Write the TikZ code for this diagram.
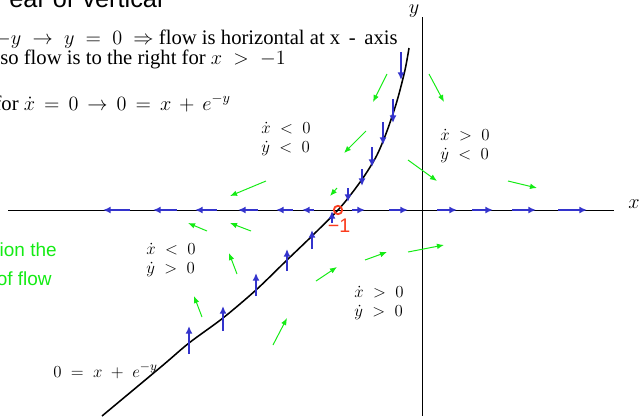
\documentclass[tikz,border=0pt]{standalone}
\usepackage{fontspec}
\setmainfont{Liberation Serif}
\newfontfamily\arialfont{Liberation Sans}
\usetikzlibrary{arrows.meta}
\definecolor{flowblue}{RGB}{51,51,204}
\definecolor{flowgreen}{RGB}{20,235,20}
\definecolor{fixred}{RGB}{250,60,30}
\tikzset{
    bluearr/.style={flowblue,line width=1.6pt,-{Latex[length=5.5pt,width=5pt]}},
    greenarr/.style={flowgreen,line width=0.7pt,-{Latex[length=5pt,width=4pt]}},
    sign/.style={align=left,inner sep=0pt,font=\fontsize{12.5}{14}\selectfont},
    toptext/.style={inner sep=0pt,font=\fontsize{14.7}{16}\selectfont}
}
\begin{document}
\begin{tikzpicture}[x=0.025cm,y=-0.025cm]
        \useasboundingbox (0,0) rectangle (639,416);
        % axes
            \draw[line width=0.7pt] (8,210) -- (614,210);
            \draw[line width=0.7pt] (422,17) -- (422,416);
            \node[font=\fontsize{14}{16}\selectfont] (xlab) at (634,204) {$x$};
            \node[font=\fontsize{14}{16}\selectfont] (ylab) at (414,11) {$y$};
        % nullcline
            \draw[line width=1.1pt] plot[smooth] coordinates {(102,416) (162,366) (189,343) (223,318)
                (256,290) (287,260) (312,236) (338,210) (352,193) (365,175) (377,155)
                (387,131) (397,101) (405,70) (409,48)};
        % flow along the x-axis
            \foreach \a/\b in {130/103,177/153,217/195,258/238,293/276,314/302,
                               352/365,389/408,437/457,472/493,512/536,558/587}{
                \draw[bluearr] (\a,210) -- (\b,210);
            }
        % flow along the nullcline
            \foreach \x/\a/\b in {189/354/326,223/331/306,256/296/273,287/271/249,312/249/230,332/223/211,
                                  348/188/202,362/169/186,372/147/167,383/122/145,393/99/123,401/52/80}{
                \draw[bluearr] (\x,\a) -- (\x,\b);
            }
        % direction field
            \foreach \a/\b/\c/\d in {387/74/373/102,429/74/444/102,366/131/344/153,408/160/437/181,
                                     508/181/537/188,337/188/330/196,266/181/230/196,207/231/188/223,
                                     251/231/230/223,237/274/229/253,202/317/194/296,273/345/287/318,
                                     316/281/337/267,365/260/387/252,408/252/444/245}{
                \draw[greenarr] (\a,\b) -- (\c,\d);
            }
        % fixed point
            \node[circle,draw=fixred,line width=1.3pt,minimum size=2.1mm,inner sep=0pt] (fix) at (338,210) {};
            \node[text=fixred,inner sep=0pt,font=\arialfont\fontsize{14}{16}\selectfont] (fixlab) at (339,226) {−1};
        % region labels
            \node[sign] (qa) at (286,139) {$\dot x \;<\; 0$\\$\dot y \;<\; 0$};
            \node[sign] (qb) at (465,146) {$\dot x \;>\; 0$\\$\dot y \;<\; 0$};
            \node[sign] (qc) at (171,260) {$\dot x \;<\; 0$\\$\dot y \;>\; 0$};
            \node[sign] (qd) at (379,303) {$\dot x \;>\; 0$\\$\dot y \;>\; 0$};
            \node[sign,anchor=base west] (ncl) at (53,377) {$0 \;=\; x \;+\; e^{-y}$};
        % text
            \node[inner sep=0pt,anchor=base east,font=\arialfont\fontsize{18}{20}\selectfont] (head) at (163,7) {ear or vertical};
            \node[toptext,anchor=base east] (line1) at (398,44) {$-y \;\rightarrow\; y \;=\; 0 \;\Rightarrow$ flow is horizontal at x \,-\, axis};
            \node[toptext,anchor=base west] (line2) at (0,64) {so flow is to the right for $x \;>\; -1$};
            \node[toptext,anchor=base east] (line3) at (231,110) {for $\dot x \,=\, 0 \,\rightarrow\, 0 \,=\, x \,+\, e^{-y}$};
            \node[text=flowgreen,inner sep=0pt,anchor=east,font=\arialfont\fontsize{13.5}{15}\selectfont] (note1) at (57,250) {ion the};
            \node[text=flowgreen,inner sep=0pt,anchor=east,font=\arialfont\fontsize{13.5}{15}\selectfont] (note2) at (52,279) {of flow};
\end{tikzpicture}
\end{document}
